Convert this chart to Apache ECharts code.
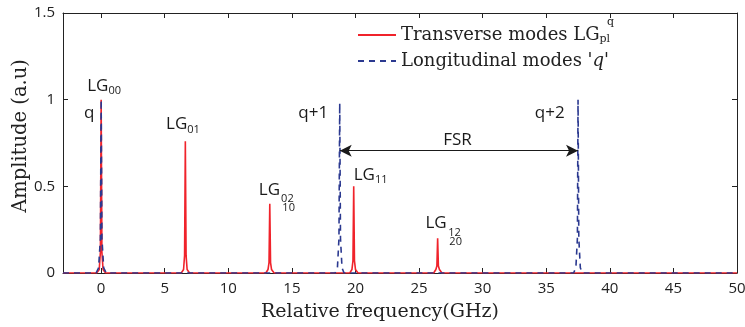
<!DOCTYPE html>
<html>
<head>
<meta charset="utf-8">
<script src="https://cdn.jsdelivr.net/npm/echarts@6/dist/echarts.min.js"></script>
<style>
  html, body { margin: 0; padding: 0; background: #fff; }
  #chart { width: 745px; height: 327px; }
</style>
</head>
<body>
<div id="chart"></div>
<script>
// x ticks (GHz)
const xTicks = [0, 5, 10, 15, 20, 25, 30, 35, 40, 45, 50]

// transverse modes LG_pl (red, solid) - [frequency, amplitude]
const transverse = [
  [-3, 0], [-0.35, 0], [-0.15, 0.02], [-0.06, 0.12], [0, 1], [0.06, 0.12], [0.15, 0.02], [0.35, 0],
  [6.3, 0], [6.48, 0.02], [6.56, 0.1], [6.62, 0.76], [6.68, 0.1], [6.76, 0.02], [6.95, 0],
  [12.95, 0], [13.12, 0.02], [13.2, 0.06], [13.26, 0.4], [13.32, 0.06], [13.4, 0.02], [13.6, 0],
  [19.55, 0], [19.72, 0.02], [19.8, 0.07], [19.86, 0.5], [19.92, 0.07], [20, 0.02], [20.2, 0],
  [26.15, 0], [26.32, 0.02], [26.4, 0.04], [26.46, 0.2], [26.52, 0.04], [26.6, 0.02], [26.8, 0],
  [50, 0]
]

// longitudinal modes q (blue, dashed)
const longitudinal = [
  [-3, 0], [-0.4, 0], [-0.2, 0.03], [-0.06, 0.2], [0, 1], [0.06, 0.2], [0.2, 0.03], [0.4, 0],
  [18.4, 0], [18.58, 0.03], [18.7, 0.2], [18.76, 0.98], [18.82, 0.2], [18.94, 0.03], [19.1, 0],
  [37.15, 0], [37.33, 0.03], [37.45, 0.2], [37.5, 1], [37.56, 0.2], [37.68, 0.03], [37.85, 0],
  [50, 0]
]

// free spectral range arrow
const fsrFrom = [18.76, 0.706]
const fsrTo = [37.5, 0.706]

// text labels: [x, y, text]
const labels = [
  [-1.1, 1.08, 'LG{s|00}'],
  [-1.35, 0.92, 'q'],
  [5.1, 0.857, 'LG{s|01}'],
  [12.4, 0.48, 'LG'],
  [14.15, 0.427, '{t|02}'],
  [14.25, 0.378, '{t|10}'],
  [15.5, 0.92, 'q+1'],
  [19.86, 0.565, 'LG{s|11}'],
  [26.9, 0.765, 'FSR'],
  [34.1, 0.92, 'q+2'],
  [25.5, 0.288, 'LG'],
  [27.3, 0.234, '{t|12}'],
  [27.38, 0.182, '{t|20}']
]

const SANS = '"Open Sans", "Noto Sans", sans-serif'
const SERIF = '"DejaVu Serif", serif'
const RED = '#f0232b'
const BLUE = '#2b3990'
const INK = '#222'

const chart = echarts.init(document.getElementById('chart'))

const axisLine = { show: true, onZero: false, lineStyle: { color: INK, width: 1 } }

const option = {
  animation: false,
  backgroundColor: '#fff',
  grid: { left: 63, right: 8, top: 13, bottom: 54, outerBoundsMode: 'none', containLabel: false },
  legend: {
    orient: 'vertical',
    left: 352,
    top: 21,
    itemWidth: 38,
    itemHeight: 14,
    itemGap: 7,
    itemStyle: { opacity: 0 },
    textStyle: {
      fontFamily: SERIF,
      fontSize: 18,
      color: INK,
      rich: {
        sub: { fontFamily: SERIF, fontSize: 11, color: INK, verticalAlign: 'bottom', padding: [9, 0, 0, 0] },
        i: { fontFamily: SERIF, fontSize: 18, fontStyle: 'italic', color: INK }
      }
    },
    formatter: (name) => name === 'Transverse modes LG'
      ? 'Transverse modes LG{sub|pl}'
      : "Longitudinal modes '{i|q}'"
  },
  graphic: [
    { type: 'text', left: 607, top: 17, style: { text: 'q', fontFamily: SERIF, fontSize: 11, fill: INK } }
  ],
  xAxis: [
    {
      type: 'value', min: -3, max: 50,
      name: 'Relative frequency(GHz)',
      nameLocation: 'middle', nameGap: 30, nameMoveOverlap: false,
      nameTextStyle: { fontFamily: SERIF, fontSize: 19, color: INK, padding: [0, 40, 0, 0] },
      axisLine: axisLine,
      axisTick: { inside: true, length: 5, customValues: xTicks, lineStyle: { color: INK } },
      axisLabel: { customValues: xTicks, fontFamily: SANS, fontSize: 15, color: INK, margin: 8 },
      splitLine: { show: false }
    },
    {
      type: 'value', min: -3, max: 50, position: 'top',
      axisLine: axisLine,
      axisTick: { inside: true, length: 5, customValues: xTicks, lineStyle: { color: INK } },
      axisLabel: { show: false },
      splitLine: { show: false }
    }
  ],
  yAxis: [
    {
      type: 'value', min: 0, max: 1.5, interval: 0.5,
      name: 'Amplitude (a.u)',
      nameLocation: 'middle', nameGap: 32, nameMoveOverlap: false,
      nameTextStyle: { fontFamily: SERIF, fontSize: 19.5, color: INK, padding: [0, 0, 0, 14] },
      axisLine: axisLine,
      axisTick: { inside: true, length: 5, lineStyle: { color: INK } },
      axisLabel: { fontFamily: SANS, fontSize: 15, color: INK, margin: 8 },
      splitLine: { show: false }
    },
    {
      type: 'value', min: 0, max: 1.5, interval: 0.5, position: 'right',
      axisLine: axisLine,
      axisTick: { inside: true, length: 5, lineStyle: { color: INK } },
      axisLabel: { show: false },
      splitLine: { show: false }
    }
  ],
  series: [
    {
      name: 'Transverse modes LG',
      type: 'line',
      data: transverse,
      symbol: 'none',
      z: 2,
      lineStyle: { color: RED, width: 1.6 },
      itemStyle: { color: RED },
      markPoint: {
        symbol: 'circle',
        symbolSize: 0,
        silent: true,
        label: {
          show: true,
          position: [0, 0],
          align: 'left',
          verticalAlign: 'middle',
          fontFamily: SANS,
          fontSize: 17,
          color: '#1a1a1a',
          formatter: (p) => p.name,
          rich: {
            s: { fontFamily: SANS, fontSize: 11, color: '#1a1a1a', verticalAlign: 'bottom', padding: [10, 0, 0, 0] },
            t: { fontFamily: SANS, fontSize: 11, color: '#1a1a1a' }
          }
        },
        data: labels.map(([x, y, t]) => ({ name: t, coord: [x, y], value: 0 }))
      }
    },
    {
      name: "Longitudinal modes 'q'",
      type: 'line',
      data: longitudinal,
      symbol: 'none',
      z: 3,
      lineStyle: { color: BLUE, width: 1.6, type: [6, 5] },
      itemStyle: { color: BLUE },
      markLine: {
        silent: true,
        symbol: ['arrow', 'arrow'],
        symbolSize: [9, 12],
        label: { show: false },
        lineStyle: { color: '#1a1a1a', width: 1.2, type: 'solid' },
        data: [[{ coord: fsrFrom }, { coord: fsrTo }]]
      }
    }
  ]
}

chart.setOption(option)
</script>
</body>
</html>
